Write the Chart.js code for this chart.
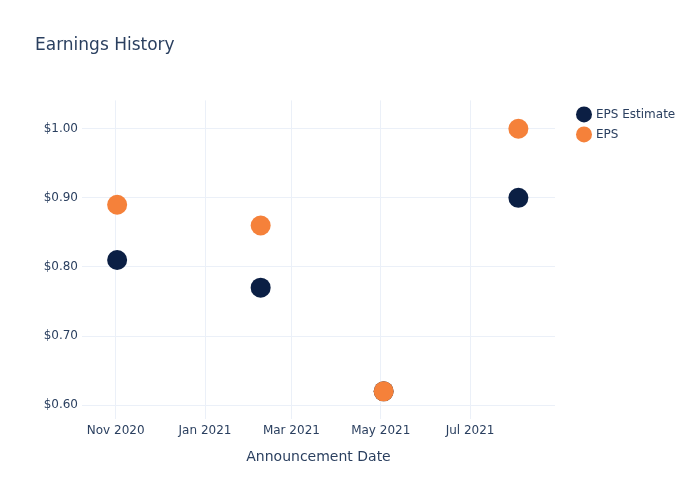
<!DOCTYPE html>
<html>
<head>
<meta charset="utf-8">
<title>Earnings History</title>
<script src="https://cdn.jsdelivr.net/npm/chart.js@4.4.1/dist/chart.umd.min.js"></script>
<style>
  body { margin: 0; background: #fff; }
</style>
</head>
<body>
<canvas id="myChart" width="700" height="500"></canvas>
<script>
// announcement dates and values
const announceDates = ['2020-11-02', '2021-02-08', '2021-05-03', '2021-08-03'];
const epsEstimate = [0.81, 0.77, 0.62, 0.90];
const epsActual = [0.89, 0.86, 0.62, 1.00];

const xTickDates = ['2020-11-01', '2021-01-01', '2021-03-01', '2021-05-01', '2021-07-01'];
const xTickLabels = ['Nov 2020', 'Jan 2021', 'Mar 2021', 'May 2021', 'Jul 2021'];
const yTickValues = [0.6, 0.7, 0.8, 0.9, 1.0];

const xMin = Date.parse('2020-10-09');
const xMax = Date.parse('2021-08-28');

function toPoints(values) {
  return values.map((v, i) => ({ x: Date.parse(announceDates[i]), y: v }));
}

Chart.defaults.font.family = 'DejaVu Sans';
Chart.defaults.color = '#2a3f5f';

const gridColor = '#ebf0f8';

const ctx = document.getElementById('myChart').getContext('2d');
new Chart(ctx, {
  type: 'scatter',
  data: {
    datasets: [
      {
        label: 'EPS Estimate',
        data: toPoints(epsEstimate),
        backgroundColor: '#0b1f44',
        borderColor: '#0b1f44',
        borderWidth: 0,
        pointRadius: 10,
        pointHoverRadius: 10,
        yAxisID: 'y',
        order: 1
      },
      {
        label: 'EPS',
        data: toPoints(epsActual),
        backgroundColor: '#f5813a',
        borderColor: '#f5813a',
        borderWidth: 0,
        pointRadius: 10,
        pointHoverRadius: 10,
        yAxisID: 'y',
        order: 0 // drawn on top, like the reference
      }
    ]
  },
  options: {
    responsive: false,
    animation: false,
    layout: { padding: { left: 35, right: 23, top: 0, bottom: 0 } },
    plugins: {
      title: {
        display: true,
        text: 'Earnings History',
        align: 'start',
        color: '#2a3f5f',
        font: { size: 17, weight: 'normal' },
        padding: { top: 35, bottom: 45 }
      },
      legend: {
        position: 'right',
        align: 'start',
        fullSize: false,
        labels: {
          usePointStyle: true,
          pointStyle: 'circle',
          boxHeight: 11.3,
          padding: 8,
          color: '#2a3f5f',
          font: { size: 12 },
          sort: (a, b) => a.datasetIndex - b.datasetIndex
        }
      },
      tooltip: { enabled: false }
    },
    scales: {
      x: {
        type: 'linear',
        min: xMin,
        max: xMax,
        afterBuildTicks: function(scale) {
          scale.ticks = xTickDates.map(d => ({ value: Date.parse(d) }));
        },
        afterFit: function(scale) { scale.height = 81; },
        ticks: {
          autoSkip: false,
          maxRotation: 0,
          padding: 5,
          font: { size: 12 },
          callback: (value, index) => xTickLabels[index]
        },
        grid: { color: gridColor, drawTicks: false },
        border: { display: false },
        title: {
          display: true,
          text: 'Announcement Date',
          font: { size: 14 },
          padding: { top: 0, bottom: 34 }
        }
      },
      y: {
        type: 'linear',
        min: 0.58,
        max: 1.041,
        afterBuildTicks: function(scale) {
          scale.ticks = yTickValues.map(v => ({ value: v }));
        },
        afterFit: function(scale) { scale.width = 47; },
        ticks: {
          padding: 4,
          font: { size: 12 },
          callback: v => '$' + v.toFixed(2)
        },
        grid: { color: gridColor, drawTicks: false },
        border: { display: false }
      },
      // empty right-hand axis, only keeps a gap between plot and legend
      gap: {
        type: 'linear',
        axis: 'y',
        position: 'right',
        afterFit: function(scale) { scale.width = 15; },
        ticks: { display: false },
        grid: { display: false },
        border: { display: false }
      }
    }
  }
});
</script>
</body>
</html>
